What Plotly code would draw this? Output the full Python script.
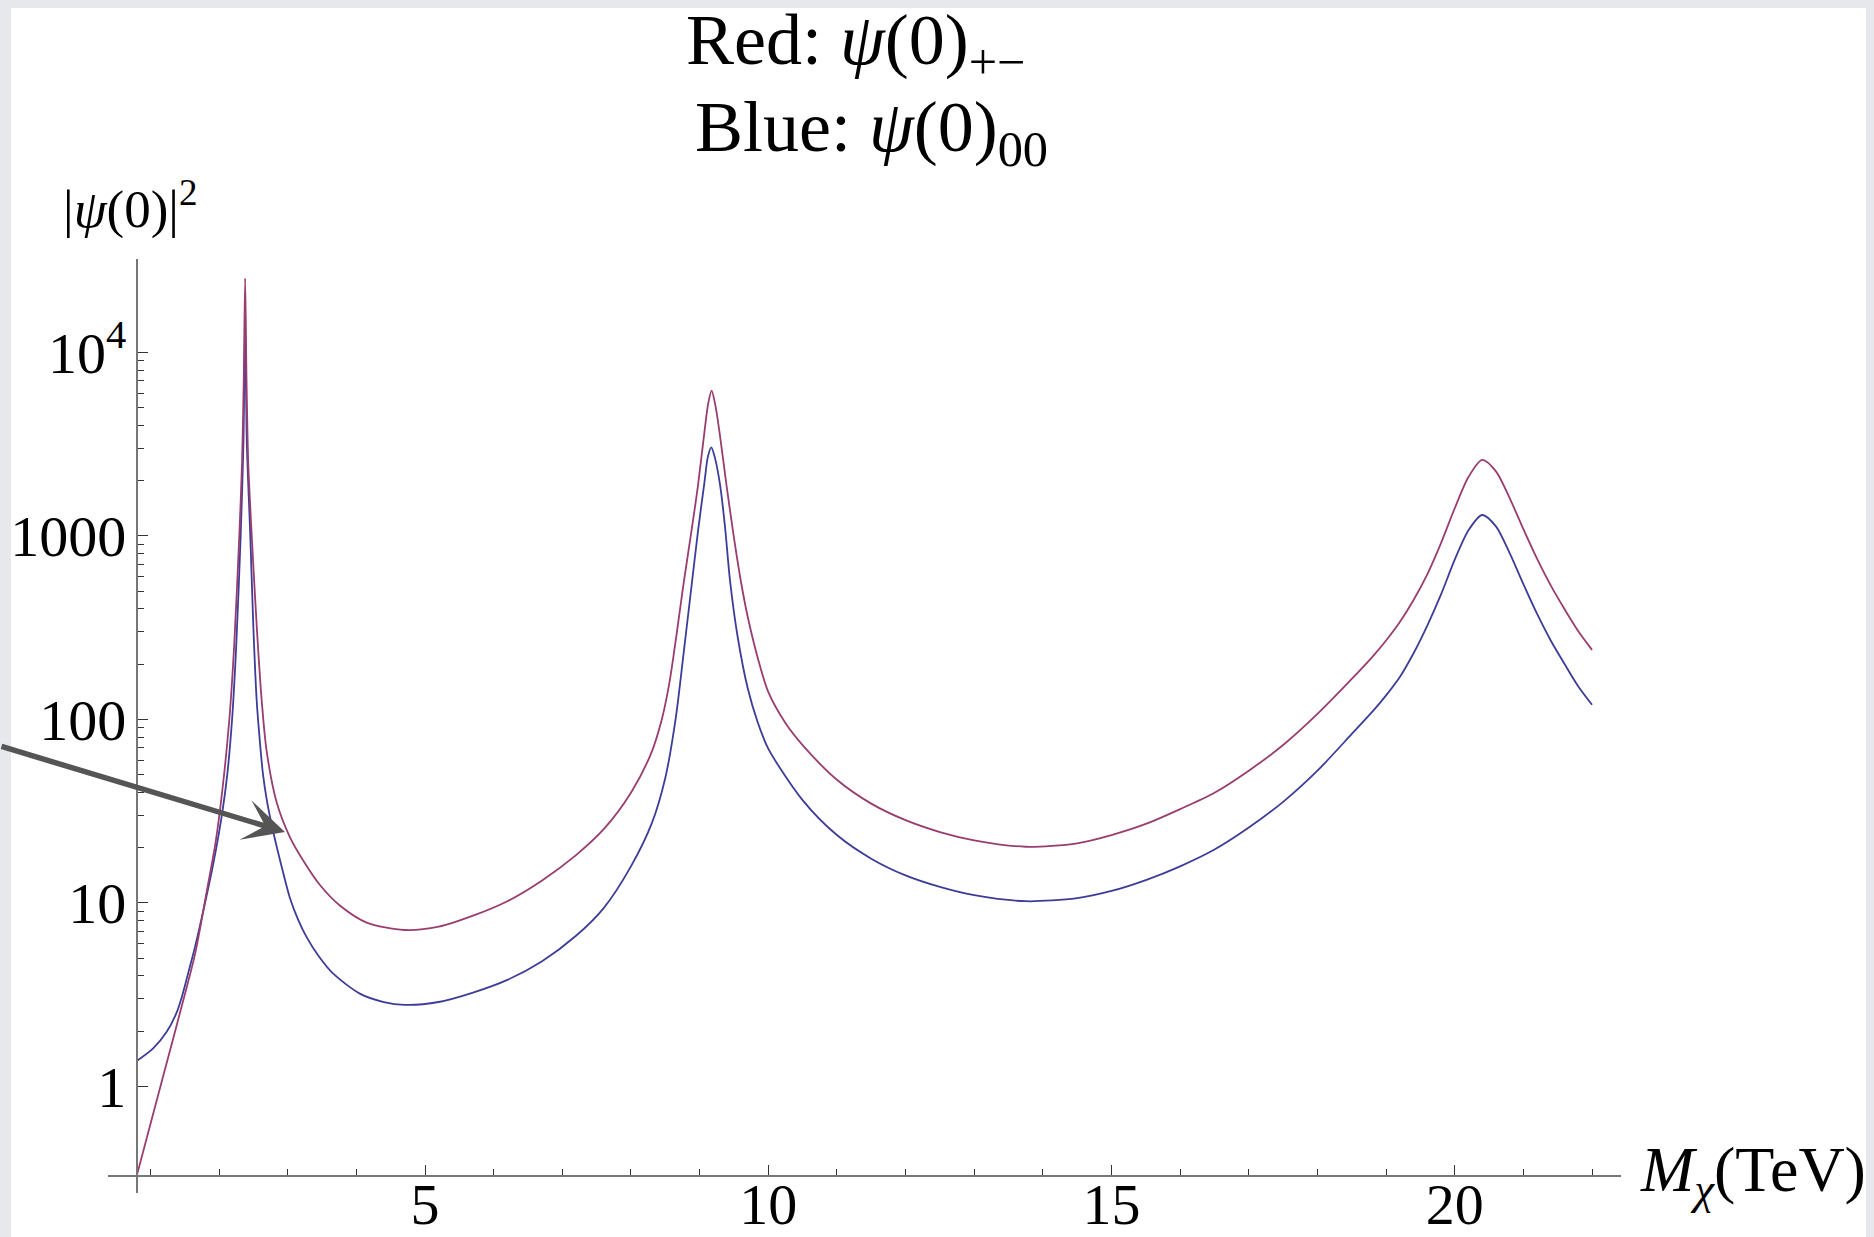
import plotly.graph_objects as go

# ---------------- data ----------------
red_x = [0.80, 1.00, 1.20, 1.48, 1.65, 1.82, 1.95, 2.05, 2.15, 2.22,
         2.295, 2.335, 2.36, 2.38, 2.40, 2.425, 2.476, 2.55, 2.621, 2.694,
         2.84, 3.03, 3.23, 3.47, 3.76, 4.15, 4.70, 5.20, 5.70, 6.20,
         6.70, 7.20, 7.60, 8.00, 8.30, 8.45, 8.56, 8.66, 8.763, 8.875,
         8.975, 9.075, 9.125, 9.175, 9.225, 9.288, 9.394, 9.50, 9.60, 9.70,
         9.85, 10.0, 10.25, 10.5, 11.0, 11.5, 12.0, 12.5, 13.0, 13.75,
         14.5, 15.0, 15.5, 16.0, 16.5, 17.0, 17.5, 18.0, 18.5, 18.8,
         19.0, 19.2, 19.4, 19.6, 19.8, 20.0, 20.2, 20.4, 20.6, 20.8,
         21.0, 21.2, 21.4, 21.6, 21.8, 22.0]
red_y = [0.324, 0.621, 1.19, 2.95, 5.25, 11.5, 21.4, 41.7, 100, 251,
         1000, 2512, 7080, 25300, 7080, 2512, 1000, 316, 127, 66.8,
         35.2, 22.9, 16.9, 12.5, 9.66, 7.80, 7.11, 7.41, 8.51, 10.2,
         13.2, 18.2, 25.1, 39.8, 66.1, 100, 158, 282, 537, 1023,
         1862, 3802, 5248, 6180, 5248, 3715, 1862, 977, 569, 363,
         214, 141, 95.5, 72.4, 46.8, 34.7, 28.2, 24.3, 21.9, 20.2,
         21.1, 23.4, 26.9, 32.4, 39.8, 52.5, 72.4, 107, 166, 219,
         269, 339, 447, 617, 912, 1413, 2089, 2590, 2244, 1603,
         1086, 748, 535, 398, 302, 239]

blue_x = [0.80, 1.04, 1.24, 1.38, 1.46, 1.56, 1.65, 1.77, 1.92, 2.05,
          2.12, 2.19, 2.25, 2.315, 2.355, 2.38, 2.405, 2.455, 2.50, 2.548,
          2.59, 2.64, 2.70, 2.77, 2.85, 2.93, 3.03, 3.15, 3.28, 3.45,
          3.66, 4.05, 4.40, 4.70, 5.20, 5.70, 6.20, 6.70, 7.20, 7.60,
          8.00, 8.30, 8.50, 8.65, 8.77, 8.893, 8.975, 9.07, 9.12, 9.17,
          9.22, 9.297, 9.37, 9.442, 9.55, 9.70, 9.85, 10.0, 10.5, 11.0,
          11.5, 12.0, 12.5, 13.0, 13.75, 14.5, 15.0, 15.5, 16.0, 16.5,
          17.0, 17.5, 18.0, 18.5, 18.8, 19.0, 19.2, 19.4, 19.6, 19.8,
          20.0, 20.2, 20.4, 20.6, 20.8, 21.0, 21.2, 21.4, 21.6, 21.8,
          22.0]
blue_y = [1.374, 1.61, 1.99, 2.51, 3.09, 4.27, 5.75, 9.02, 16.6, 31.6,
          50.1, 100, 251, 1000, 3162, 14100, 3162, 1000, 316, 127,
          79.4, 50.1, 35.5, 26.3, 19.5, 14.8, 10.7, 8.13, 6.46, 5.13,
          4.12, 3.20, 2.88, 2.78, 2.88, 3.24, 3.80, 4.79, 6.61, 9.33,
          15.8, 26.9, 47.9, 100, 234, 575, 1047, 1950, 2692, 3035,
          2692, 1905, 1122, 575, 288, 148, 95.5, 69.2, 36.3, 23.4,
          17.4, 14.1, 12.2, 11.0, 10.2, 10.6, 11.6, 13.3, 15.8, 19.5,
          25.7, 35.5, 52.5, 83.2, 110, 135, 170, 229, 324, 479,
          741, 1072, 1298, 1125, 804, 545, 375, 268, 200, 151,
          120]

x_major = [5, 10, 15, 20]
x_minor = [v for v in range(1, 23) if v not in x_major]
y_major = [1, 10, 100, 1000, 10000]
y_major_text = ["1", "10", "100", "1000", "10<sup>4</sup>"]
y_minor = [m * 10 ** k for k in range(0, 4) for m in range(2, 10)]

# ---------------- geometry ----------------
W, H = 1874, 1237
ML, MR, MT, MB = 108, 253, 259, 44
PW, PH = W - ML - MR, H - MT - MB
X0PX, XPU = 81.75, 68.65      # pixel of x=0, pixels per unit
Y1PX, YPD = 1086.3, 183.5     # pixel of y=1, pixels per decade


def px_to_x(px):
    return (px - X0PX) / XPU


def py_to_log(py):
    return (Y1PX - py) / YPD


def paper_x(px):
    return (px - ML) / PW


def paper_y(py):
    return (H - MB - py) / PH


SERIF = "Liberation Serif, Times New Roman, serif"
RED = "#993d71"
BLUE = "#3d3d99"

fig = go.Figure()
fig.add_trace(go.Scatter(x=blue_x, y=blue_y, mode="lines",
                         line=dict(color=BLUE, width=1.8, shape="spline", smoothing=0.8),
                         showlegend=False, hoverinfo="skip"))
fig.add_trace(go.Scatter(x=red_x, y=red_y, mode="lines",
                         line=dict(color=RED, width=1.8, shape="spline", smoothing=0.8),
                         showlegend=False, hoverinfo="skip"))

axis_common = dict(showgrid=False, zeroline=False, showline=True, linecolor="#777777",
                   linewidth=1.6, ticks="inside", ticklen=10, tickwidth=1.2,
                   tickcolor="#333333", tickfont=dict(family=SERIF, size=58, color="black"),
                   anchor="free")

fig.update_layout(
    width=W, height=H,
    margin=dict(l=ML, r=MR, t=MT, b=MB, autoexpand=False),
    paper_bgcolor="#e6e8eb",
    plot_bgcolor="white",
    xaxis=dict(range=[px_to_x(ML), px_to_x(ML + PW)], tickmode="array",
               tickvals=x_major, ticktext=[str(v) for v in x_major],
               position=paper_y(1175.7), ticklabelstandoff=-22,
               minor=dict(tickmode="array", tickvals=x_minor, ticks="inside", ticklen=6,
                          tickwidth=1.2, tickcolor="#333333"),
               **axis_common),
    yaxis=dict(type="log", range=[py_to_log(MT + PH), py_to_log(MT)], tickmode="array",
               tickvals=y_major, ticktext=y_major_text,
               position=paper_x(136.7), ticklabelstandoff=-2,
               minor=dict(tickmode="array", tickvals=y_minor, ticks="inside", ticklen=6,
                          tickwidth=1.2, tickcolor="#333333"),
               **axis_common),
)

# white card over the grey page
fig.add_shape(type="rect", xref="paper", yref="paper", layer="below",
              x0=paper_x(11), x1=paper_x(1866), y0=paper_y(1240), y1=paper_y(8),
              fillcolor="white", line=dict(width=0))

# titles and labels
fig.add_annotation(xref="paper", yref="paper", x=paper_x(856), y=paper_y(45),
                   text="Red: <i>ψ</i>(0)<sub>+−</sub>", showarrow=False,
                   xanchor="center", yanchor="middle",
                   font=dict(family=SERIF, size=72, color="black"))
fig.add_annotation(xref="paper", yref="paper", x=paper_x(871), y=paper_y(132),
                   text="Blue: <i>ψ</i>(0)<sub>00</sub>", showarrow=False,
                   xanchor="center", yanchor="middle",
                   font=dict(family=SERIF, size=72, color="black"))
fig.add_annotation(xref="paper", yref="paper", x=paper_x(61), y=paper_y(205),
                   text="|<i>ψ</i>(0)|<sup>2</sup>", showarrow=False,
                   xanchor="left", yanchor="middle",
                   font=dict(family=SERIF, size=53, color="black"))
fig.add_annotation(xref="paper", yref="paper", x=paper_x(1638), y=paper_y(1174),
                   text="<i>M</i><sub><i>χ</i></sub>(TeV)", showarrow=False,
                   xanchor="left", yanchor="middle",
                   font=dict(family=SERIF, size=64, color="black"))

# arrow
fig.add_annotation(x=px_to_x(285), y=py_to_log(832), xref="x", yref="y",
                   text="", showarrow=True, axref="pixel", ayref="pixel",
                   ax=-305, ay=-86, arrowhead=3, arrowsize=1.25, arrowwidth=5.5,
                   arrowcolor="#555555", standoff=0)

fig.write_html("out.html",
               config={"displayModeBar": False},
               post_script="document.body.style.margin='0';"
                           "document.body.style.background='#e6e8eb';")
